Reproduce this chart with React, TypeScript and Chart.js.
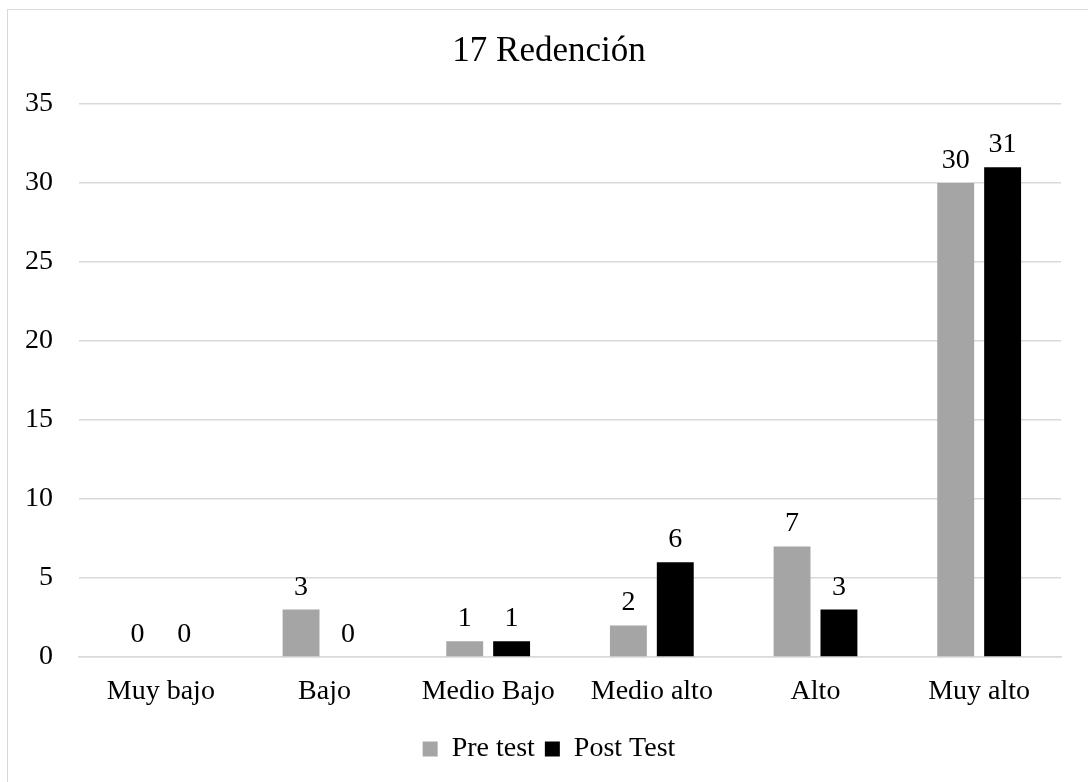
import React, { useEffect, useRef } from "react";
import { Chart, registerables } from "chart.js";

Chart.register(...registerables);

const chartTitle = "17 Redención";
const categories = ["Muy bajo", "Bajo", "Medio Bajo", "Medio alto", "Alto", "Muy alto"];
const seriesNames = ["Pre test", "Post Test"];
const preTest = [0, 3, 1, 2, 7, 30];
const postTest = [0, 0, 1, 6, 3, 31];
const yMin = 0;
const yMax = 35;
const yStep = 5;

const FONT = '"Liberation Serif", "Times New Roman", Times, serif';
const GRID = "#d9d9d9";

export default function App() {
  const ref = useRef<HTMLCanvasElement>(null);

  useEffect(() => {
    if (!ref.current) return;
    const valueLabels = {
      id: "valueLabels",
      afterDatasetsDraw(chart: any) {
        const ctx = chart.ctx;
        ctx.save();
        ctx.font = `28px ${FONT}`;
        ctx.fillStyle = "#000";
        ctx.textAlign = "center";
        ctx.textBaseline = "alphabetic";
        chart.data.datasets.forEach((ds: any, i: number) => {
          const meta = chart.getDatasetMeta(i);
          meta.data.forEach((bar: any, j: number) => {
            ctx.fillText(String(ds.data[j]), bar.x, bar.y - 15);
          });
        });
        ctx.restore();
      },
    };

    const chart = new Chart(ref.current, {
      type: "bar",
      data: {
        labels: categories,
        datasets: [
          {
            label: seriesNames[0],
            data: preTest,
            backgroundColor: "#a5a5a5",
            borderWidth: 0,
            categoryPercentage: 0.573,
            barPercentage: 0.787,
          },
          {
            label: seriesNames[1],
            data: postTest,
            backgroundColor: "#000000",
            borderWidth: 0,
            categoryPercentage: 0.573,
            barPercentage: 0.787,
          },
        ],
      },
      options: {
        responsive: false,
        animation: false,
        devicePixelRatio: 1,
        layout: { padding: { left: 0, right: 0, top: 0, bottom: 9 } },
        plugins: {
          title: {
            display: true,
            text: chartTitle,
            color: "#000",
            font: { family: FONT, size: 35, weight: "normal", lineHeight: 1.2 },
            padding: { top: 31, bottom: 31 },
          },
          legend: {
            display: true,
            position: "bottom",
            labels: {
              color: "#000",
              font: { family: FONT, size: 28 },
              boxWidth: 15,
              boxHeight: 15,
              padding: 10,
            },
          },
          tooltip: { enabled: false },
        },
        scales: {
          x: {
            grid: { display: false, drawTicks: false },
            border: { display: true, color: GRID, width: 1.5 },
            ticks: { color: "#000", font: { family: FONT, size: 28 }, padding: 18, maxRotation: 0, autoSkip: false },
            afterFit(scale: any) {
              scale.height = 68;
            },
          },
          y: {
            min: yMin,
            max: yMax,
            grid: { color: GRID, lineWidth: 1.5, drawTicks: false },
            border: { display: false },
            ticks: { stepSize: yStep, color: "#000", font: { family: FONT, size: 28 }, padding: 26 },
            afterFit(scale: any) {
              scale.width = 79;
            },
          },
          yRightSpace: {
            type: "linear",
            position: "right",
            display: true,
            grid: { display: false, drawTicks: false },
            border: { display: false },
            ticks: { display: false },
            afterFit(scale: any) {
              scale.width = 37;
            },
          },
        },
      },
      plugins: [valueLabels],
    } as any);

    return () => chart.destroy();
  }, []);

  return (
    <div style={{ position: "fixed", left: 0, top: 0, width: 1088, height: 782, overflow: "hidden", background: "#fff" }}>
      <div
        style={{
          position: "absolute",
          left: 7,
          top: 9,
          width: 1100,
          height: 900,
          border: "1.5px solid #d9d9d9",
          boxSizing: "border-box",
        }}
      />
      <canvas ref={ref} width={1098} height={782} style={{ position: "absolute", left: 0, top: 0, display: "block" }} />
    </div>
  );
}
